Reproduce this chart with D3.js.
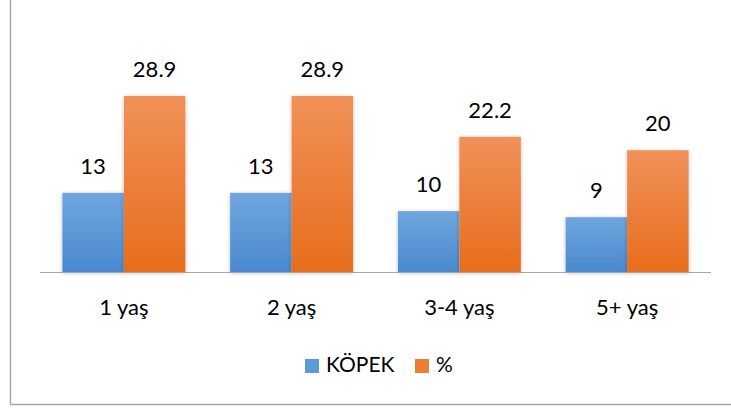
<!DOCTYPE html>
<html>
<head>
<meta charset="utf-8">
<script src="https://cdn.jsdelivr.net/npm/d3@7"></script>
<style>
  html, body { margin: 0; padding: 0; background: #fff; }
  svg { display: block; font-family: Lato, "Open Sans", sans-serif; }
</style>
</head>
<body>
<svg id="chart" width="731" height="410"></svg>
<script>
const categories = ["1 yaş", "2 yaş", "3-4 yaş", "5+ yaş"];
const series = ["KÖPEK", "%"];
const kopek = [13, 13, 10, 9];
const pct = [28.9, 28.9, 22.2, 20];

const svg = d3.select("#chart");
const W = 731, H = 410;

// outer frame (only left and bottom edges are visible)
svg.append("line").attr("x1", 10.5).attr("x2", 10.5).attr("y1", 0).attr("y2", 404.5)
  .attr("stroke", "#a6a6a6").attr("stroke-width", 1.5);
svg.append("line").attr("x1", 10).attr("x2", W).attr("y1", 404.5).attr("y2", 404.5)
  .attr("stroke", "#a6a6a6").attr("stroke-width", 1.5);

const defs = svg.append("defs");
function grad(id, top, bottom) {
  const g = defs.append("linearGradient").attr("id", id)
    .attr("x1", 0).attr("y1", 0).attr("x2", 0).attr("y2", 1);
  g.append("stop").attr("offset", "0%").attr("stop-color", top);
  g.append("stop").attr("offset", "100%").attr("stop-color", bottom);
}
grad("gBlue", "#6fa6dd", "#4a89cf");
grad("gOrange", "#f09159", "#e76d1c");
const f = defs.append("filter").attr("id", "shadow").attr("x", "-20%").attr("y", "-10%").attr("width", "140%").attr("height", "120%");
f.append("feDropShadow").attr("dx", 0).attr("dy", 1).attr("stdDeviation", 2).attr("flood-color", "#000").attr("flood-opacity", 0.25);

const fills = ["url(#gBlue)", "url(#gOrange)"];
const legendFills = ["#5b9bd5", "#ed7d31"];

const x = d3.scaleBand().domain(categories).range([40, 711]).paddingInner(0.267).paddingOuter(0.1335);
const xs = d3.scaleBand().domain(series).range([0, x.bandwidth()]);
const y = d3.scaleLinear().domain([0, 28.9]).range([272, 96]);

const rows = categories.map((c, i) => ({ cat: c, vals: [kopek[i], pct[i]] }));

const groups = svg.append("g").selectAll("g").data(rows).join("g")
  .attr("transform", d => `translate(${x(d.cat)},0)`);

groups.selectAll("rect").data(d => d.vals.map((v, j) => ({ v, s: series[j], j }))).join("rect")
  .attr("x", d => xs(d.s))
  .attr("width", xs.bandwidth())
  .attr("y", d => y(d.v))
  .attr("height", d => y(0) - y(d.v))
  .attr("fill", d => fills[d.j])
  .attr("filter", "url(#shadow)");

groups.selectAll("text").data(d => d.vals.map((v, j) => ({ v, s: series[j] }))).join("text")
  .attr("x", d => xs(d.s) + xs.bandwidth() / 2)
  .attr("y", d => y(d.v) - 19)
  .attr("text-anchor", "middle")
  .attr("font-size", 22)
  .attr("fill", "#000")
  .text(d => d.v);

// category axis
svg.append("line").attr("x1", 40).attr("x2", 711).attr("y1", 272.5).attr("y2", 272.5)
  .attr("stroke", "#a6a6a6").attr("stroke-width", 1);
svg.append("g").selectAll("text").data(categories).join("text")
  .attr("x", d => x(d) + x.bandwidth() / 2)
  .attr("y", 315)
  .attr("text-anchor", "middle")
  .attr("font-size", 22)
  .text(d => d);

// legend
const legend = svg.append("g");
const lx = [305, 415];
series.forEach((s, i) => {
  legend.append("rect").attr("x", lx[i]).attr("y", 359).attr("width", 14).attr("height", 14)
    .attr("fill", legendFills[i]);
  legend.append("text").attr("x", lx[i] + 21).attr("y", 372).attr("font-size", 21).text(s);
});
</script>
</body>
</html>
